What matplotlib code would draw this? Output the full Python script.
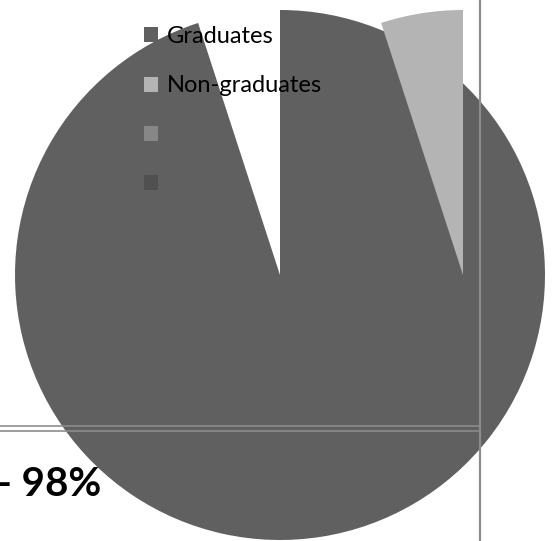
import matplotlib
matplotlib.use('Agg')
import matplotlib.pyplot as plt
from matplotlib.patches import Patch

# pie data (share of the circle)
labels = ['Graduates', 'Non-graduates']
shares = [95, 5]
colors = ['#606060', '#b4b4b4']

# legend entries (two extra unnamed series)
legend_labels = ['Graduates', 'Non-graduates', '', '']
legend_colors = ['#606060', '#b4b4b4', '#878787', '#505050']

data_label = '- 98%'

W, H = 555, 541
fig = plt.figure(figsize=(W / 100, H / 100), dpi=100)
ax = fig.add_axes([0, 0, 1, 1])

# pie centre in pixel space (y measured from the bottom)
cx, cy, r = 280, H - 275, 265
wedges, _ = ax.pie(shares, colors=colors, startangle=90, counterclock=False,
                   center=(cx, cy), radius=r, frame=True)
ax.set_xlim(0, W)
ax.set_ylim(0, H)
ax.set_aspect('equal')
ax.axis('off')
# the small slice is pulled out sideways
wedges[1].set_center((cx + 183, cy))

# border lines of the plot area
ax.plot([0, 480], [H - 426, H - 426], color='#8c8c8c', lw=1.2, zorder=5)
ax.plot([0, 480], [H - 430.5, H - 430.5], color='#8c8c8c', lw=1.2, zorder=5)
ax.plot([480, 480], [0, H], color='#8c8c8c', lw=1.6, zorder=5)

# data label sits partly outside the left edge, as in the source
ax.text(101, H - 484, data_label, ha='right', va='center',
        fontsize=29, fontweight='bold', family='Lato', color='black', zorder=6)

handles = [Patch(facecolor=c, edgecolor='none') for c in legend_colors]
leg = ax.legend(handles, legend_labels, loc='upper left',
                bbox_to_anchor=(144 / W, 1 - 26 / H), frameon=False,
                prop={'family': 'Lato', 'size': 17},
                handlelength=0.6, handleheight=0.6, handletextpad=0.38,
                labelspacing=1.2, borderpad=0, borderaxespad=0)
leg.set_zorder(7)

fig.savefig('out.png', dpi=100)
